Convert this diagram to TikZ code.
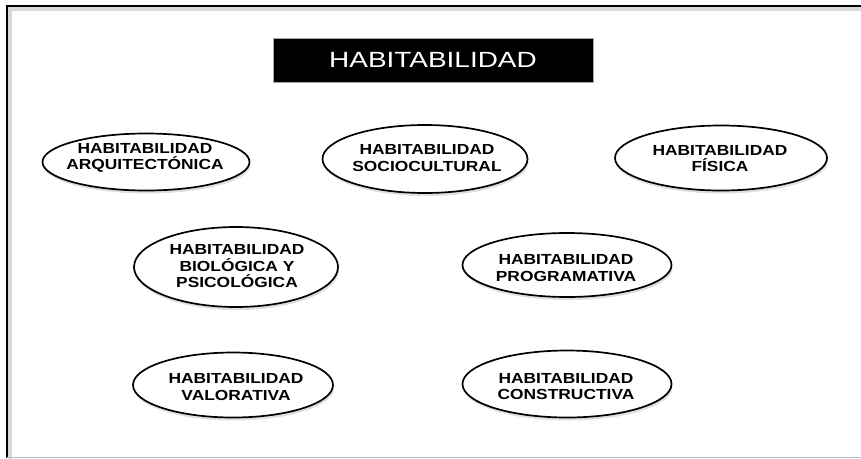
\documentclass[tikz,border=0pt]{standalone}
\usepackage{fontspec}
\usetikzlibrary{shapes.geometric,shadows}
\newfontfamily\lblfont{Liberation Sans}[FakeStretch=1.19]
\newfontfamily\ttlfont{Liberation Sans}[FakeStretch=1.27]
\begin{document}
\begin{tikzpicture}[x=1pt,y=-1pt,
  oval/.style={ellipse, draw, line width=1.7pt, inner sep=0pt, fill=white,
    drop shadow={shadow xshift=1pt, shadow yshift=-3pt, opacity=0.35, fill=black!35}},
  lbl/.style={align=center, inner sep=0pt, text=black,
    font={\lblfont\bfseries\fontsize{14.6pt}{16.5pt}\selectfont}},
  titlebox/.style={rectangle, fill=black, draw=gray!70, line width=0.8pt, inner sep=0pt,
    text=white, font={\ttlfont\fontsize{22pt}{26pt}\selectfont}}]
\useasboundingbox (0,0) rectangle (861,458);
\clip (0,0) rectangle (861,458);
\fill[white] (0,0) rectangle (861,458);
% frame shadow and frame
\draw[gray!30, line width=4pt] (10,470) -- (10,9) -- (880,9);
\draw[black, line width=2pt] (7,458) -- (7,6) -- (880,6);
\draw[gray!50, line width=1.2pt] (7,457.4) -- (880,457.4);
% title
\node[titlebox, minimum width=320pt, minimum height=44pt] (title) at (433,60) {HABITABILIDAD};
% ovals
\node[oval, minimum width=207pt, minimum height=57pt] (arq) at (146,162) {};
\node[oval, minimum width=205pt, minimum height=68pt] (soc) at (425,159) {};
\node[oval, minimum width=212pt, minimum height=65pt] (fis) at (721,158) {};
\node[oval, minimum width=204pt, minimum height=80pt] (bio) at (236,267) {};
\node[oval, minimum width=209pt, minimum height=64pt] (pro) at (567,265) {};
\node[oval, minimum width=200pt, minimum height=65pt] (val) at (233,385) {};
\node[oval, minimum width=209pt, minimum height=67pt] (con) at (567,384) {};
% labels
\node[lbl] (arqt) at (145,158) {HABITABILIDAD\\ARQUITECTÓNICA};
\node[lbl] (soct) at (427,158) {HABITABILIDAD\\SOCIOCULTURAL};
\node[lbl] (fist) at (720,158.5) {HABITABILIDAD\\FÍSICA};
\node[lbl] (biot) at (237,266.5) {HABITABILIDAD\\BIOLÓGICA Y\\PSICOLÓGICA};
\node[lbl] (prot) at (566,268) {HABITABILIDAD\\PROGRAMATIVA};
\node[lbl] (valt) at (236,387) {HABITABILIDAD\\VALORATIVA};
\node[lbl] (cont) at (566,386.5) {HABITABILIDAD\\CONSTRUCTIVA};
\end{tikzpicture}
\end{document}
